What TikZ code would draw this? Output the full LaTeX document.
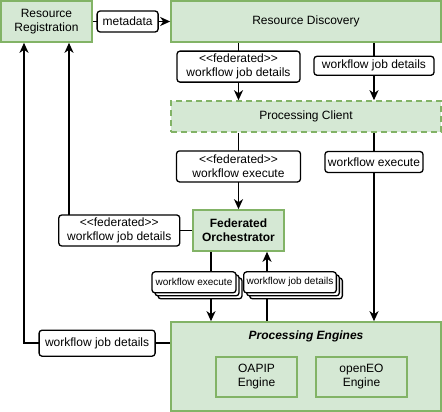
\documentclass[tikz,border=0pt]{standalone}
\usepackage{fontspec}
\setmainfont{Liberation Sans}
\usetikzlibrary{arrows.meta,shadows}

\definecolor{boxfill}{HTML}{D5E8D4}
\definecolor{boxline}{HTML}{82B366}

\newcommand{\fedtag}{<{}<federated>{}>}

\tikzset{
    comp/.style={draw=boxline, fill=boxfill, line width=1.6pt, align=center,
        font=\fontsize{12}{14}\selectfont, inner sep=0pt},
    lbl/.style={draw=black, fill=white, line width=1.3pt, rounded corners=3pt,
        align=center, font=\fontsize{12}{14}\selectfont, inner xsep=3pt, inner ysep=1pt},
    lblstack/.style={lbl, font=\fontsize{10}{12}\selectfont, minimum width=84pt, minimum height=21pt,
        double copy shadow={shadow xshift=3pt, shadow yshift=-3pt}},
    flow/.style={line width=1.6pt, -{Stealth[length=10pt,width=9pt,inset=3pt]}},
}

\begin{document}
\begin{tikzpicture}[x=1pt,y=-1pt]
        \useasboundingbox (0,0) rectangle (442,412);

        % components
        \node[comp, minimum width=91pt, minimum height=41pt] (rr) at (46.5,21.5) {Resource\\Registration};
        \node[comp, minimum width=270pt, minimum height=41pt] (rd) at (306,21.5) {Resource Discovery};
        \node[comp, dash pattern=on 6pt off 4pt, minimum width=270pt, minimum height=31pt] (pc) at (306,116.5) {Processing Client};
        \node[comp, minimum width=91pt, minimum height=41pt, font=\fontsize{12}{14}\selectfont\bfseries] (fo) at (238.5,230.5) {Federated\\Orchestrator};
        \node[comp, minimum width=270pt, minimum height=89pt] (pe) at (306,366.5) {};
        \node[font=\fontsize{12}{14}\selectfont\bfseries\itshape] (pet) at (306,336) {Processing Engines};
        \node[comp, minimum width=81pt, minimum height=40pt] (oapip) at (256.5,377) {OAPIP\\Engine};
        \node[comp, minimum width=91pt, minimum height=40pt] (openeo) at (361.5,377) {openEO\\Engine};

        % columns of the connectors
        \coordinate (rcol) at (374,0);
        \coordinate (lcolA) at (24,0);
        \coordinate (lcolB) at (69,0);
        \coordinate (scolA) at (211,0);
        \coordinate (scolB) at (267,0);

        % connectors
        \draw[flow] (rr) -- (rd) node[lbl, pos=0.45, minimum width=61pt, minimum height=21pt] {metadata};
        \draw[flow] (rd.south -| fo) -- (pc.north -| fo) node[lbl, pos=0.415, minimum width=123pt, minimum height=31pt] {\fedtag\\workflow job details};
        \draw[flow] (rd.south -| rcol) -- (pc.north -| rcol) node[lbl, pos=0.4, minimum width=120pt, minimum height=19pt] {workflow job details};
        \draw[flow] (pc.south -| fo) -- (fo) node[lbl, pos=0.44, minimum width=124pt, minimum height=31pt] {\fedtag\\workflow execute};
        \draw[flow] (pc.south -| rcol) -- (pe.north -| rcol) node[lbl, pos=0.155, minimum width=98pt, minimum height=21pt] {workflow execute};
        \draw[flow] (fo) -| (rr.south -| lcolB) node[lbl, pos=0.296, minimum width=121pt, minimum height=31pt] {\fedtag\\workflow job details};
        \draw[flow] ([yshift=-22pt]pe.north west) -| (rr.south -| lcolA) node[lbl, pos=0.25, minimum width=116pt, minimum height=26pt] {workflow job details};
        \draw[flow] (fo.south -| scolA) -- (pe.north -| scolA) node[lblstack, pos=0.44, xshift=-17pt] {workflow execute};
        \draw[flow] (pe.north -| scolB) -- (fo.south -| scolB) node[lblstack, pos=0.56, xshift=23pt, minimum width=90pt] {workflow job details};
    \end{tikzpicture}
\end{document}
